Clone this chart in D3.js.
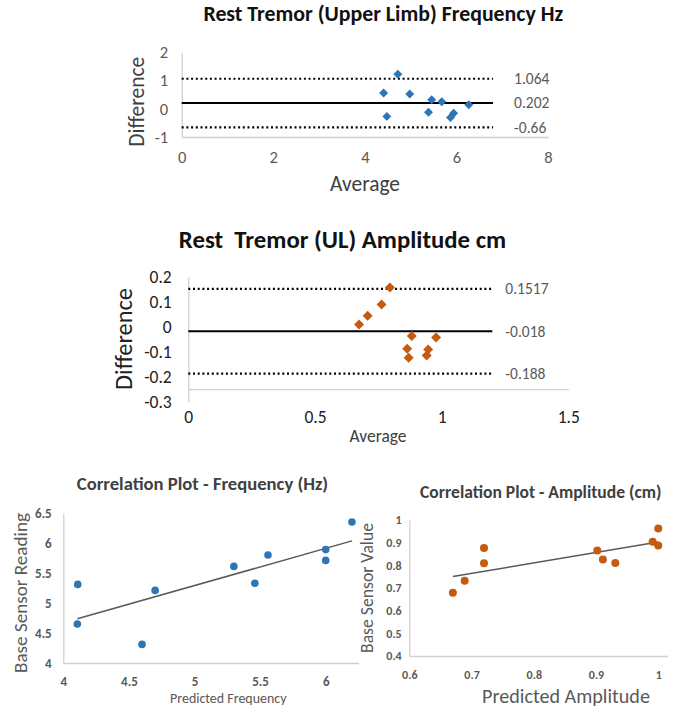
<!DOCTYPE html>
<html>
<head>
<meta charset="utf-8">
<script src="https://cdn.jsdelivr.net/npm/d3@7"></script>
<style>
  body { margin: 0; background: #fff; }
  text { font-family: Carlito, Lato, "Open Sans", sans-serif; }
</style>
</head>
<body>
<script>

// Bland-Altman : frequency
var freqAvg  = [4.41, 4.48, 4.72, 4.98, 5.39, 5.46, 5.68, 5.87, 5.94, 6.27];
var freqDiff = [0.56, -0.27, 1.22, 0.52, -0.12, 0.32, 0.25, -0.31, -0.16, 0.14];
var freqLimits = [1.064, 0.202, -0.66];
var freqLimitLabels = ["1.064", "0.202", "-0.66"];
var freqXTicks = [0, 2, 4, 6, 8];
var freqYTicks = [-1, 0, 1, 2];

// Bland-Altman : amplitude
var ampAvg  = [0.674, 0.708, 0.763, 0.796, 0.882, 0.864, 0.870, 0.947, 0.941, 0.978];
var ampDiff = [0.009, 0.044, 0.089, 0.157, -0.037, -0.088, -0.124, -0.091, -0.115, -0.043];
var ampLimits = [0.1517, -0.018, -0.188];
var ampLimitLabels = ["0.1517", "-0.018", "-0.188"];
var ampXTicks = [0, 0.5, 1, 1.5];
var ampYTicks = [-0.3, -0.2, -0.1, 0, 0.1, 0.2];

// correlation : frequency
var cfPred = [4.107, 4.11, 4.60, 4.70, 5.30, 5.46, 5.56, 6.00, 6.00, 6.20];
var cfBase = [4.65, 5.31, 4.31, 5.21, 5.61, 5.33, 5.80, 5.89, 5.71, 6.35];
var cfXTicks = [4, 4.5, 5, 5.5, 6];
var cfYTicks = [4, 4.5, 5, 5.5, 6, 6.5];

// correlation : amplitude
var caPred = [0.670, 0.689, 0.72, 0.72, 0.902, 0.911, 0.931, 0.991, 1.0, 1.0];
var caBase = [0.679, 0.732, 0.876, 0.809, 0.865, 0.826, 0.81, 0.904, 0.962, 0.888];
var caXTicks = [0.6, 0.7, 0.8, 0.9, 1];
var caYTicks = [0.4, 0.5, 0.6, 0.7, 0.8, 0.9, 1];

var blue = "#2e75b6", orange = "#c55a11";
var fmt = function(d) { return String(+d.toFixed(2)); };

var svg = d3.select("body").append("svg")
    .attr("width", 681).attr("height", 713);
svg.append("rect").attr("width", 681).attr("height", 713).attr("fill", "#fff");

// squeeze / stretch a label to the width it has in the picture
function fit(t, w) {
  var fs = parseFloat(t.attr("font-size"));
  var len = t.node().getComputedTextLength();
  t.attr("font-size", fs * w / len);
}

function label(txt, cx, cy, w, fs, opts) {
  opts = opts || {};
  var t = svg.append("text")
      .attr("text-anchor", "middle")
      .attr("font-size", fs)
      .attr("font-weight", opts.bold ? "bold" : "normal")
      .attr("fill", opts.color || "#404040")
      .text(txt);
  if (opts.rotate) {
    t.attr("transform", "translate(" + cx + "," + cy + ") rotate(-90)").attr("dy", "0.35em");
  } else {
    t.attr("x", cx).attr("y", cy);
  }
  fit(t, w);
  return t;
}

function axes(g, x, y, c) {
  var ax = g.append("g")
      .attr("transform", "translate(0," + y(c.xAxisAt) + ")")
      .call(d3.axisBottom(x).tickValues(c.xTicks).tickFormat(fmt)
            .tickSize(0).tickPadding(c.padX));
  var ay = g.append("g")
      .attr("transform", "translate(" + x(x.domain()[0]) + ",0)")
      .call(d3.axisLeft(y).tickValues(c.yTicks).tickFormat(fmt)
            .tickSize(0).tickPadding(c.padY));
  [ax, ay].forEach(function(a) {
    a.attr("font-family", null).attr("font-size", null);
    a.select(".domain").attr("stroke", "#d0d0d0").attr("stroke-width", 1.3);
    a.selectAll("text")
      .attr("font-size", c.tickSize)
      .attr("font-weight", c.tickBold ? "bold" : "normal")
      .attr("fill", c.tickColor);
  });
}

function blandAltman(c) {
  var x = d3.scaleLinear().domain(c.xDomain).range(c.xRange);
  var y = d3.scaleLinear().domain(c.yDomain).range(c.yRange);
  var g = svg.append("g");
  axes(g, x, y, c);

  g.selectAll("line.lim").data(c.limits).enter().append("line")
      .attr("x1", x(0)).attr("x2", x(c.lineEnd))
      .attr("y1", function(d) { return y(d); })
      .attr("y2", function(d) { return y(d); })
      .attr("stroke", "#000")
      .attr("stroke-width", function(d, i) { return i == 1 ? 2 : 2.2; })
      .attr("stroke-dasharray", function(d, i) { return i == 1 ? null : "2,2.7"; });

  g.selectAll("text.lim").data(c.limits).enter().append("text")
      .attr("x", x(c.lineEnd) + c.labelDx)
      .attr("y", function(d) { return y(d); })
      .attr("dy", "0.35em")
      .attr("font-size", c.limSize)
      .attr("fill", "#595959")
      .text(function(d, i) { return c.limitLabels[i]; });

  var sym = d3.symbol(d3.symbolSquare, c.markSize);
  g.selectAll("path.pt").data(c.avg).enter().append("path")
      .attr("d", sym)
      .attr("fill", c.color)
      .attr("transform", function(d, i) {
        return "translate(" + x(d) + "," + y(c.diff[i]) + ") rotate(45)";
      });
}

function correlation(c) {
  var x = d3.scaleLinear().domain(c.xDomain).range(c.xRange);
  var y = d3.scaleLinear().domain(c.yDomain).range(c.yRange);
  var g = svg.append("g");
  axes(g, x, y, c);

  // linear trendline (least squares)
  var mx = d3.mean(c.px), my = d3.mean(c.py);
  var sxy = d3.sum(c.px, function(v, i) { return (v - mx) * (c.py[i] - my); });
  var sxx = d3.sum(c.px, function(v) { return (v - mx) * (v - mx); });
  var b = sxy / sxx, a = my - b * mx;
  var ends = d3.extent(c.px);
  g.append("line")
      .attr("x1", x(ends[0])).attr("y1", y(a + b * ends[0]))
      .attr("x2", x(ends[1])).attr("y2", y(a + b * ends[1]))
      .attr("stroke", "#595959").attr("stroke-width", 1.5);

  g.selectAll("circle").data(c.px).enter().append("circle")
      .attr("cx", function(d) { return x(d); })
      .attr("cy", function(d, i) { return y(c.py[i]); })
      .attr("r", c.r)
      .attr("fill", c.color);
}

// ---- panel 1
blandAltman({
  xDomain: [0, 8], xRange: [181.7, 548],
  yDomain: [-1, 2], yRange: [137, 52.3],
  xAxisAt: -1, xTicks: freqXTicks, yTicks: freqYTicks,
  padX: 14, padY: 13.5, tickSize: 16.5, tickColor: "#595959",
  limits: freqLimits, limitLabels: freqLimitLabels, lineEnd: 6.8, labelDx: 21, limSize: 15.5,
  avg: freqAvg, diff: freqDiff, color: blue, markSize: 40
});
label("Rest Tremor (Upper Limb) Frequency Hz", 383.3, 21, 360, 16, { bold: true, color: "#111" });
label("Difference", 136.7, 101.7, 90, 20, { rotate: true });
label("Average", 365, 191, 70, 18);

// ---- panel 2
blandAltman({
  xDomain: [0, 1.5], xRange: [188.3, 568.3],
  yDomain: [-0.3, 0.2], yRange: [401.7, 276.7],
  xAxisAt: -0.25, xTicks: ampXTicks, yTicks: ampYTicks,
  padX: 21.5, padY: 16.6, tickSize: 17.5, tickColor: "#222",
  limits: ampLimits, limitLabels: ampLimitLabels, lineEnd: 1.2, labelDx: 13, limSize: 15.5,
  avg: ampAvg, diff: ampDiff, color: orange, markSize: 50
});
label("Rest  Tremor (UL) Amplitude cm", 342.5, 247.5, 322, 19, { bold: true, color: "#111" }).style("white-space", "pre");
label("Difference", 123.5, 339, 102, 22, { rotate: true, color: "#222" });
label("Average", 378, 441.5, 57, 14);

// ---- panel 3
correlation({
  xDomain: [4, 6.25], xRange: [63.3, 358.5],
  yDomain: [4, 6.5], yRange: [663, 513],
  xAxisAt: 4, xTicks: cfXTicks, yTicks: cfYTicks,
  padX: 14, padY: 11.6, tickSize: 13, tickBold: true, tickColor: "#595959",
  px: cfPred, py: cfBase, color: blue, r: 3.8
});
label("Correlation Plot - Frequency (Hz)", 202.5, 490, 251.7, 14, { bold: true });
label("Base Sensor Reading", 20, 593, 160, 16, { rotate: true, color: "#595959" });
label("Predicted Frequency", 228.3, 703, 116.7, 12, { color: "#595959" });

// ---- panel 4
correlation({
  xDomain: [0.6, 1.015], xRange: [409.3, 667.6],
  yDomain: [0.4, 1], yRange: [656, 520],
  xAxisAt: 0.4, xTicks: caXTicks, yTicks: caYTicks,
  padX: 14, padY: 7.6, tickSize: 12, tickBold: true, tickColor: "#595959",
  px: caPred, py: caBase, color: orange, r: 4
});
label("Correlation Plot - Amplitude (cm)", 540.8, 498, 241.7, 14, { bold: true });
label("Base Sensor Value", 366.7, 588, 130, 15, { rotate: true, color: "#595959" });
label("Predicted Amplitude", 566, 703, 168, 20, { color: "#595959" });

</script>
</body>
</html>
